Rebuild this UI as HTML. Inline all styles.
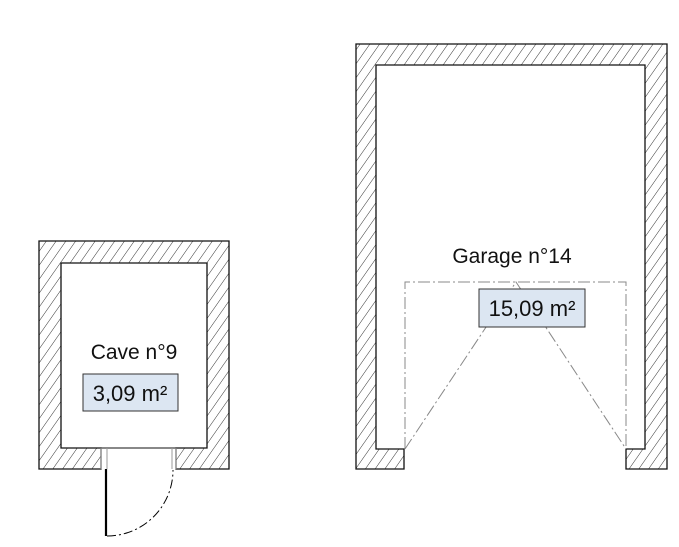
<!DOCTYPE html>
<html><head><style>body{margin:0;background:#fff}svg{display:block}</style></head><body>
<svg width="679" height="547" viewBox="0 0 679 547" xmlns="http://www.w3.org/2000/svg">
<defs>
<pattern id="h" patternUnits="userSpaceOnUse" width="8" height="8" patternTransform="rotate(35)">
<line x1="0" y1="0" x2="0" y2="8" stroke="#333" stroke-width="1"/>
</pattern>
</defs>
<path d="M39,241 H229 V469 H176 V448 H207 V263 H61 V448 H101 V469 H39 Z" fill="url(#h)" stroke="#111" stroke-width="1.3"/>
<line x1="101" y1="448" x2="176" y2="448" stroke="#111" stroke-width="1"/>
<line x1="107" y1="448" x2="107" y2="469" stroke="#999" stroke-width="1"/>
<line x1="101" y1="448" x2="101" y2="469" stroke="#999" stroke-width="1"/>
<line x1="172" y1="448" x2="172" y2="469" stroke="#999" stroke-width="1"/>
<line x1="176" y1="448" x2="176" y2="469" stroke="#999" stroke-width="1"/>
<line x1="106" y1="469" x2="106" y2="536" stroke="#000" stroke-width="2.2"/>
<path d="M107,536 A66,66 0 0 0 173,470" fill="none" stroke="#000" stroke-width="1" stroke-dasharray="9,3,2,3"/>
<text x="134" y="359" font-family="Liberation Sans, sans-serif" font-size="21" text-anchor="middle" fill="#111">Cave n°9</text>
<rect x="83" y="374" width="95" height="37" fill="#dce6f2" stroke="#333" stroke-width="1"/>
<text x="130" y="401" font-family="Liberation Sans, sans-serif" font-size="22" text-anchor="middle" fill="#111">3,09 m²</text>
<path d="M356,44 H667 V469 H626 V449 H645 V65 H376 V449 H404 V469 H356 Z" fill="url(#h)" stroke="#111" stroke-width="1.3"/>
<g stroke="#888" stroke-width="1" fill="none" stroke-dasharray="12,3,2,3">
<path d="M405,449 V282 H626 V449"/>
<path d="M405,449 L516,282 L626,449"/>
</g>
<text x="512" y="263" font-family="Liberation Sans, sans-serif" font-size="21" text-anchor="middle" fill="#111">Garage n°14</text>
<rect x="479" y="289" width="106" height="38" fill="#dce6f2" stroke="#333" stroke-width="1"/>
<text x="532" y="316" font-family="Liberation Sans, sans-serif" font-size="22" text-anchor="middle" fill="#111">15,09 m²</text>
</svg>
</body></html>
